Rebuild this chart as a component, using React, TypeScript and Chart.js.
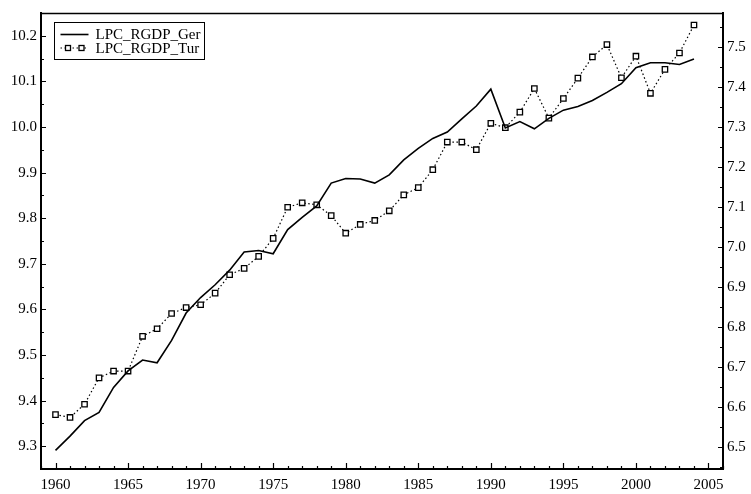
import React, { useEffect, useRef } from "react";
import { Chart, registerables } from "chart.js";

Chart.register(...registerables);

const years = [
  1960, 1961, 1962, 1963, 1964, 1965, 1966, 1967, 1968, 1969,
  1970, 1971, 1972, 1973, 1974, 1975, 1976, 1977, 1978, 1979,
  1980, 1981, 1982, 1983, 1984, 1985, 1986, 1987, 1988, 1989,
  1990, 1991, 1992, 1993, 1994, 1995, 1996, 1997, 1998, 1999,
  2000, 2001, 2002, 2003, 2004,
];

const gerValues = [
  9.291, 9.322, 9.356, 9.374, 9.429, 9.465, 9.489, 9.483, 9.532, 9.592,
  9.626, 9.654, 9.686, 9.726, 9.729, 9.722, 9.775, 9.802, 9.827, 9.877,
  9.887, 9.886, 9.877, 9.895, 9.928, 9.953, 9.975, 9.989, 10.018, 10.046,
  10.083, 9.998, 10.012, 9.996, 10.019, 10.037, 10.045, 10.058, 10.076, 10.095,
  10.130, 10.141, 10.141, 10.137, 10.149,
];

const turValues = [
  6.580, 6.573, 6.606, 6.672, 6.689, 6.689, 6.776, 6.795, 6.833, 6.848,
  6.855, 6.884, 6.930, 6.946, 6.976, 7.021, 7.099, 7.110, 7.105, 7.078,
  7.034, 7.056, 7.066, 7.090, 7.130, 7.148, 7.193, 7.262, 7.262, 7.243,
  7.309, 7.298, 7.337, 7.396, 7.322, 7.371, 7.422, 7.475, 7.506, 7.423,
  7.477, 7.384, 7.444, 7.485, 7.555,
];

const xTicks = [1960, 1965, 1970, 1975, 1980, 1985, 1990, 1995, 2000, 2005];
const leftTicks = [9.3, 9.4, 9.5, 9.6, 9.7, 9.8, 9.9, 10.0, 10.1, 10.2];
const rightTicks = [6.5, 6.6, 6.7, 6.8, 6.9, 7.0, 7.1, 7.2, 7.3, 7.4, 7.5];

const FONT = { family: '"Liberation Serif", "Times New Roman", serif', size: 15 };

const tickPlugin = {
  id: "inwardTicks",
  afterDraw(chart: any) {
    const ctx = chart.ctx;
    const a = chart.chartArea;
    const sx = chart.scales.x;
    const sl = chart.scales.y;
    const sr = chart.scales.y1;
    ctx.save();
    ctx.strokeStyle = "#000";
    ctx.lineWidth = 1.2;
    ctx.beginPath();
    for (let v = 1959; v <= 2006; v++) {
      const px = Math.round(sx.getPixelForValue(v)) + 0.5;
      const len = v % 5 === 0 ? 6 : 3;
      ctx.moveTo(px, a.bottom);
      ctx.lineTo(px, a.bottom - len);
    }
    for (let i = 0; i <= 20; i++) {
      const v = 9.25 + i * 0.05;
      const py = Math.round(sl.getPixelForValue(v)) + 0.5;
      const major = i % 2 === 1;
      ctx.moveTo(a.left, py);
      ctx.lineTo(a.left + (major ? 5 : 3), py);
    }
    for (let i = 0; i <= 22; i++) {
      const v = 6.45 + i * 0.05;
      if (v > sr.max) break;
      const py = Math.round(sr.getPixelForValue(v)) + 0.5;
      const major = i % 2 === 1;
      ctx.moveTo(a.right, py);
      ctx.lineTo(a.right - (major ? 5 : 3), py);
    }
    ctx.stroke();
    ctx.lineWidth = 1.5;
    ctx.beginPath();
    ctx.moveTo(a.left, a.top + 0.5);
    ctx.lineTo(a.right, a.top + 0.5);
    ctx.stroke();
    ctx.restore();
  },
};

const legendPlugin = {
  id: "boxLegend",
  afterDraw(chart: any) {
    const ctx = chart.ctx;
    const a = chart.chartArea;
    const x0 = Math.round(a.left + 13) + 0.5;
    const y0 = Math.round(a.top + 9) + 0.5;
    const w = 150;
    const h = 37;
    ctx.save();
    ctx.fillStyle = "#fff";
    ctx.fillRect(x0, y0, w, h);
    ctx.strokeStyle = "#000";
    ctx.lineWidth = 1;
    ctx.strokeRect(x0, y0, w, h);
    chart.data.datasets.forEach((ds: any, i: number) => {
      const yy = y0 + 12 + i * 13.5;
      ctx.strokeStyle = "#000";
      ctx.setLineDash(ds.borderDash || []);
      ctx.lineWidth = ds.borderWidth;
      ctx.beginPath();
      ctx.moveTo(x0 + 6, yy);
      ctx.lineTo(x0 + 34, yy);
      ctx.stroke();
      ctx.setLineDash([]);
      if (ds.pointRadius > 0) {
        ctx.lineWidth = 1.3;
        [x0 + 13.5, x0 + 27].forEach((cx) => {
          ctx.fillStyle = "#fff";
          ctx.fillRect(cx - 2.5, yy - 2.5, 5, 5);
          ctx.strokeRect(cx - 2.5, yy - 2.5, 5, 5);
        });
      }
      ctx.font = `${FONT.size}px ${FONT.family}`;
      ctx.fillStyle = "#000";
      ctx.textBaseline = "middle";
      ctx.textAlign = "left";
      ctx.fillText(ds.label, x0 + 41, yy + 1);
    });
    ctx.restore();
  },
};

export default function App() {
  const ref = useRef<HTMLCanvasElement | null>(null);

  useEffect(() => {
    if (!ref.current) return;
    const chart = new Chart(ref.current, {
      type: "line",
      data: {
        datasets: [
          {
            label: "LPC_RGDP_Ger",
            data: years.map((x, i) => ({ x, y: gerValues[i] })),
            yAxisID: "y",
            borderColor: "#000",
            borderWidth: 1.6,
            pointRadius: 0,
            tension: 0,
            fill: false,
          },
          {
            label: "LPC_RGDP_Tur",
            data: years.map((x, i) => ({ x, y: turValues[i] })),
            yAxisID: "y1",
            borderColor: "#000",
            borderWidth: 1.2,
            borderDash: [1.5, 2.5],
            pointStyle: "rect",
            pointRadius: 3.8,
            pointBorderWidth: 1.3,
            pointBackgroundColor: "#fff",
            pointBorderColor: "#000",
            tension: 0,
            fill: false,
          },
        ],
      },
      options: {
        responsive: false,
        animation: false,
        layout: { padding: { top: 8, left: 0, right: 0, bottom: 0 } },
        plugins: { legend: { display: false }, tooltip: { enabled: false } },
        scales: {
          x: {
            type: "linear",
            position: "bottom",
            min: 1959,
            max: 2006,
            grid: { display: false, drawTicks: false },
            border: { display: true, color: "#000", width: 2 },
            afterBuildTicks: (s: any) => {
              s.ticks = xTicks.map((v) => ({ value: v }));
            },
            afterFit: (s: any) => {
              s.height = 25;
            },
            ticks: {
              color: "#000",
              font: FONT,
              padding: 7,
              maxRotation: 0,
              autoSkip: false,
              callback: (v: any) => String(v),
            },
          },
          y: {
            type: "linear",
            position: "left",
            min: 9.25,
            max: 10.25,
            grid: { display: false, drawTicks: false },
            border: { display: true, color: "#000", width: 2 },
            afterBuildTicks: (s: any) => {
              s.ticks = leftTicks.map((v) => ({ value: v }));
            },
            afterFit: (s: any) => {
              s.width = 41;
            },
            ticks: {
              color: "#000",
              font: FONT,
              padding: 4,
              callback: (v: any) => Number(v).toFixed(1),
            },
          },
          y1: {
            type: "linear",
            position: "right",
            min: 6.444,
            max: 7.585,
            grid: { display: false, drawTicks: false },
            border: { display: true, color: "#000", width: 2 },
            afterBuildTicks: (s: any) => {
              s.ticks = rightTicks.map((v) => ({ value: v }));
            },
            afterFit: (s: any) => {
              s.width = 28;
            },
            ticks: {
              color: "#000",
              font: FONT,
              padding: 4,
              callback: (v: any) => Number(v).toFixed(1),
            },
          },
        },
      },
      plugins: [tickPlugin, legendPlugin],
    } as any);
    return () => chart.destroy();
  }, []);

  return (
    <div style={{ position: "fixed", left: 0, top: 0, width: 751, height: 494, background: "#fff" }}>
      <canvas ref={ref} width={751} height={494} style={{ display: "block" }} />
    </div>
  );
}
